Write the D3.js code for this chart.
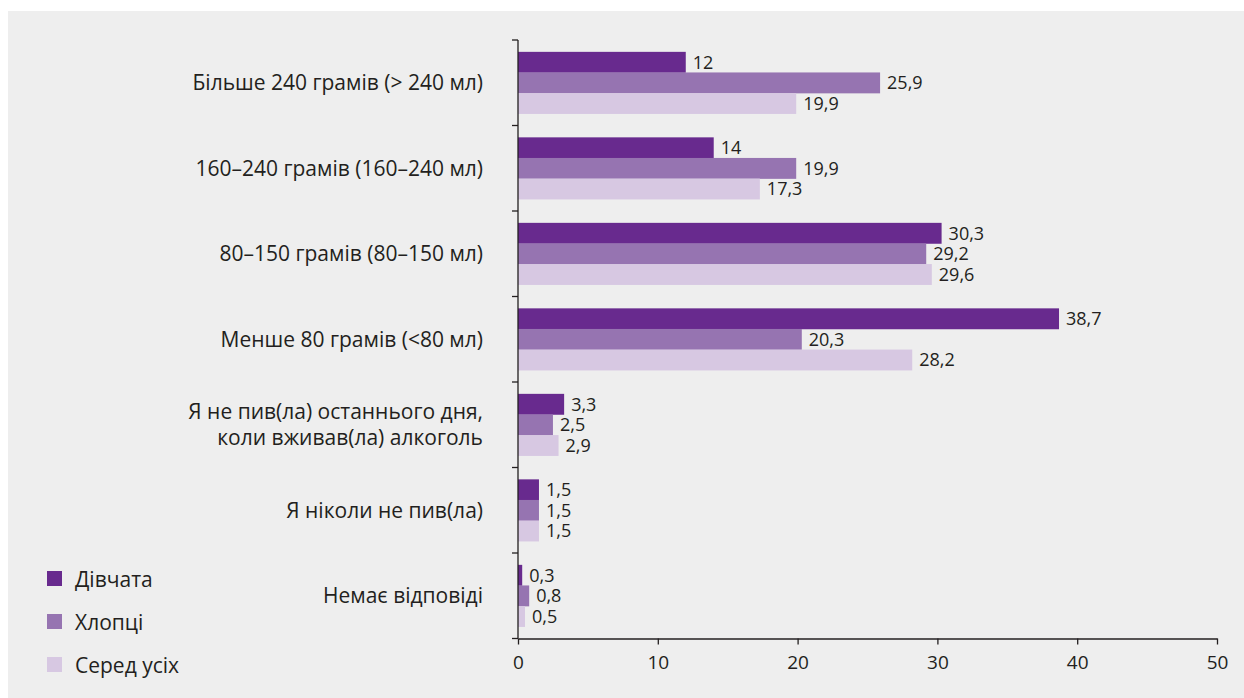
<!DOCTYPE html>
<html><head><meta charset="utf-8">
<script src="https://cdn.jsdelivr.net/npm/d3@7"></script>
<style>
html,body{margin:0;padding:0;background:#fff;}
svg{display:block;}
text{font-family:"Open Sans","Noto Sans",sans-serif;fill:#231f20;}
</style></head>
<body>
<svg id="chart" width="1244" height="698"></svg>
<script>
const categories = [
  ["Більше 240 грамів (> 240 мл)"],
  ["160–240 грамів (160–240 мл)"],
  ["80–150 грамів (80–150 мл)"],
  ["Менше 80 грамів (<80 мл)"],
  ["Я не пив(ла) останнього дня,", "коли вживав(ла) алкоголь"],
  ["Я ніколи не пив(ла)"],
  ["Немає відповіді"]
];
const seriesNames = ["Дівчата", "Хлопці", "Серед усіх"];
const girls = [12, 14, 30.3, 38.7, 3.3, 1.5, 0.3];
const boys = [25.9, 19.9, 29.2, 20.3, 2.5, 1.5, 0.8];
const all = [19.9, 17.3, 29.6, 28.2, 2.9, 1.5, 0.5];
const xTicks = [0, 10, 20, 30, 40, 50];
const colors = ["#682a8e", "#9674b1", "#d7c8e2"];

const seriesValues = [girls, boys, all];
const svg = d3.select("#chart");
svg.append("rect").attr("x", 8).attr("y", 11).attr("width", 1236).attr("height", 687).attr("fill", "#eeeeee");

const x = d3.scaleLinear().domain([0, 50]).range([518, 1217]);
const y = d3.scaleBand().domain(d3.range(categories.length)).range([40, 638.5]).padding(0);
const barH = 20.6;
const fmt = v => String(v).replace(".", ",");

// bars
categories.forEach((c, i) => {
  const top = y(i) + (y.bandwidth() - 3 * barH) / 2;
  seriesValues.forEach((vals, s) => {
    const v = vals[i];
    svg.append("rect")
      .attr("x", x(0)).attr("y", top + s * barH)
      .attr("width", x(v) - x(0)).attr("height", barH + 0.3)
      .attr("fill", colors[s]);
    svg.append("text")
      .attr("x", x(v) + 7).attr("y", top + s * barH + barH / 2)
      .attr("dy", "0.36em").attr("font-size", 18).text(fmt(v));
  });
  const lines = c;
  const cy = y(i) + y.bandwidth() / 2;
  lines.forEach((ln, k) => {
    svg.append("text")
      .attr("x", 483).attr("y", cy + (k - (lines.length - 1) / 2) * 26)
      .attr("dy", "0.36em").attr("text-anchor", "end").attr("font-size", 21)
      .text(ln);
  });
});

// y axis line + ticks at band boundaries
const axisColor = "#231f20";
svg.append("line").attr("x1", x(0)).attr("x2", x(0)).attr("y1", 40).attr("y2", 638.5)
  .attr("stroke", axisColor).attr("stroke-width", 1.3);
d3.range(categories.length + 1).forEach(i => {
  const yy = i < categories.length ? y(i) : y.range()[1];
  svg.append("line").attr("x1", x(0) - 6).attr("x2", x(0)).attr("y1", yy).attr("y2", yy)
    .attr("stroke", axisColor).attr("stroke-width", 1.3);
});

// x axis
const xAxis = d3.axisBottom(x).tickValues(xTicks).tickSize(6).tickPadding(11).tickSizeOuter(0);
const gx = svg.append("g").attr("transform", "translate(0,638.5)").call(xAxis);
gx.select(".domain").attr("stroke", axisColor).attr("stroke-width", 1.5);
gx.selectAll(".tick line").attr("stroke", axisColor).attr("stroke-width", 1.3);
gx.selectAll(".tick text").attr("font-size", 19).attr("font-family", "Open Sans, Noto Sans, sans-serif").attr("fill", "#231f20");

// legend
seriesNames.forEach((n, s) => {
  const ly = 579 + s * 43;
  svg.append("rect").attr("x", 47).attr("y", ly - 8).attr("width", 15).attr("height", 15).attr("fill", colors[s]);
  svg.append("text").attr("x", 75).attr("y", ly).attr("dy", "0.36em").attr("font-size", 21).text(n);
});
</script>
</body></html>
